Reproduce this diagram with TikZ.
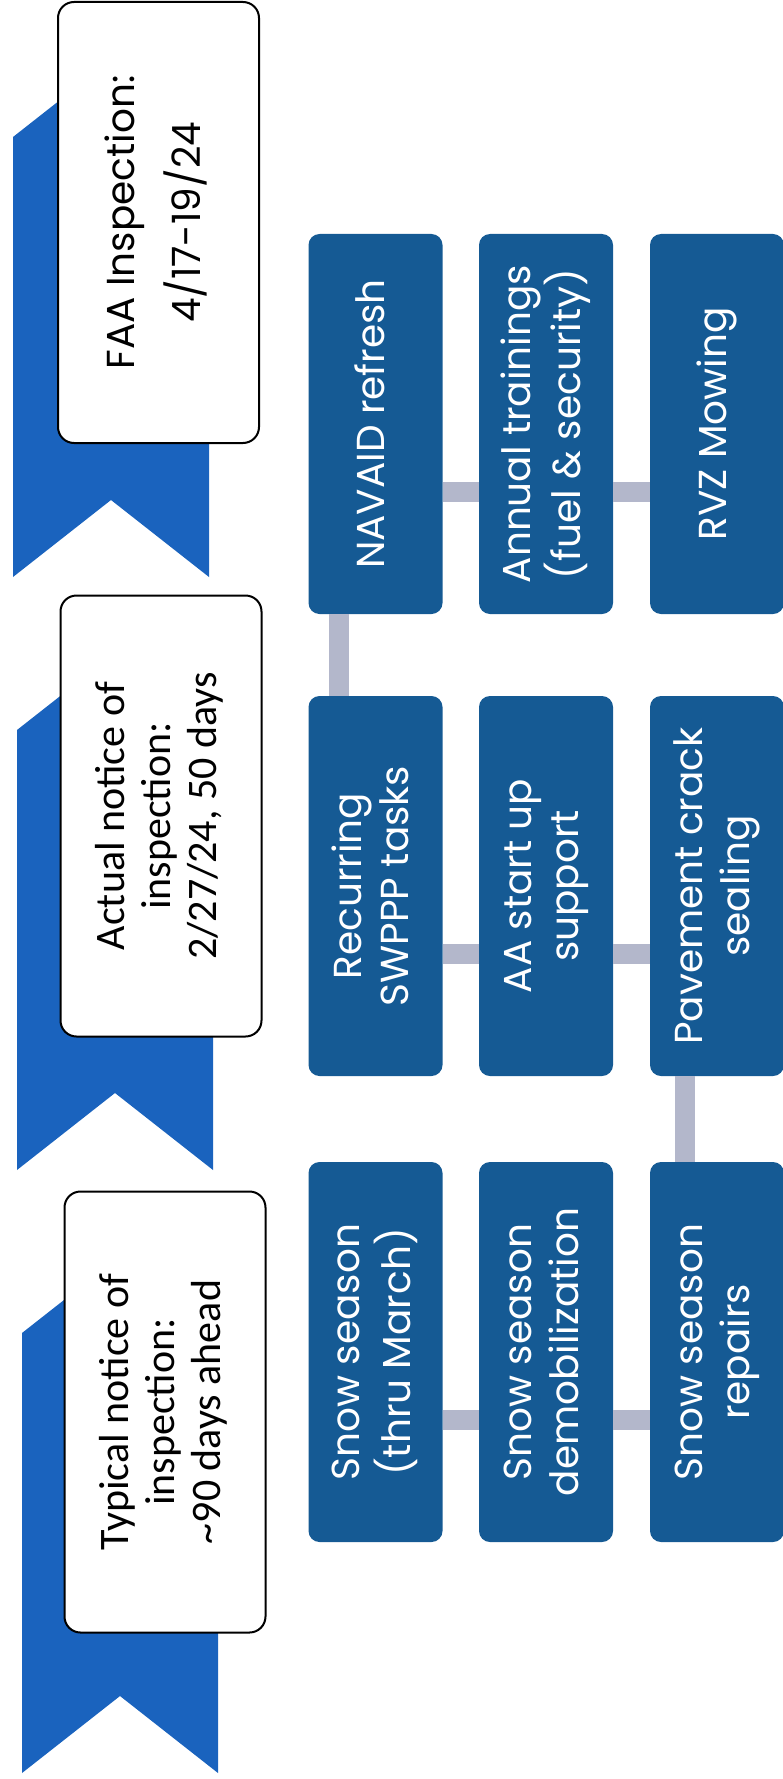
\documentclass[tikz,border=0pt]{standalone}
\usepackage{fontspec}
\setmainfont{Poppins}
\newfontfamily\notefont{Carlito}
\usepackage{graphicx}
\usepackage{tikz}
\definecolor{taskblue}{HTML}{155A94}
\definecolor{ribbonblue}{HTML}{1A63BE}
\definecolor{linkgrey}{HTML}{B3B7CB}
\newcommand{\uptext}[1]{\rotatebox{90}{\begin{tabular}{@{}c@{}}#1\end{tabular}}}
\newcommand{\ribbon}[2]{\fill[ribbonblue] (#1,#2) -- ++(98,-77) -- ++(98,77) -- ++(0,440) -- ++(-98,-77) -- ++(-98,77) -- cycle;}
\tikzstyle{task}=[fill=taskblue, text=white, rounded corners=11pt, inner sep=0,
                  minimum width=134pt, minimum height=380pt, font=\fontsize{39}{47}\selectfont]
\tikzstyle{note}=[draw=black, line width=2pt, fill=white, rounded corners=16pt, inner sep=0,
                  minimum width=201pt, minimum height=441pt, font=\notefont\fontsize{42}{46}\selectfont]
\tikzstyle{link}=[draw=linkgrey, line width=20pt]
\tikzstyle{timeline}=[x=1pt, y=-1pt]

\begin{document}
\begin{tikzpicture}[timeline]
    \useasboundingbox (0,0) rectangle (782,1779);
    % chevrons behind the notices
    \ribbon{13}{137}
    \ribbon{17}{730}
    \ribbon{22}{1333}
    \node[note, font=\fontsize{39}{44}\selectfont] (faa) at (158.5,222.5) {\uptext{FAA Inspection:\\[16pt]4/17-19/24}};
    \node[note] (actual) at (161,816) {\uptext{Actual notice of\\inspection:\\2/27/24, 50 days}};
    \node[note] (typical) at (165,1412) {\uptext{Typical notice of\\inspection:\\\textasciitilde90 days ahead}};
    % tasks
    \node[task] (navaid) at (375.5,424) {\uptext{NAVAID refresh}};
    \node[task] (annual) at (546,424) {\uptext{Annual trainings\\(fuel \& security)}};
    \node[task] (rvz) at (717,424) {\uptext{RVZ Mowing}};
    \node[task] (swppp) at (375.5,886) {\uptext{Recurring\\SWPPP tasks}};
    \node[task] (startup) at (546,886) {\uptext{AA start up\\support}};
    \node[task] (crack) at (717,886) {\uptext{Pavement crack\\sealing}};
    \node[task] (snow) at (375.5,1352) {\uptext{Snow season\\(thru March)}};
    \node[task] (demob) at (546,1352) {\uptext{Snow season\\demobilization}};
    \node[task] (repairs) at (717,1352) {\uptext{Snow season\\repairs}};
    % links
    \draw[link] ([yshift=-68pt]navaid.east) -- ([yshift=-68pt]annual.west);
    \draw[link] ([yshift=-68pt]annual.east) -- ([yshift=-68pt]rvz.west);
    \draw[link] ([xshift=-37pt]navaid.south) -- ([xshift=-37pt]swppp.north);
    \draw[link] ([yshift=-68pt]swppp.east) -- ([yshift=-68pt]startup.west);
    \draw[link] ([yshift=-68pt]startup.east) -- ([yshift=-68pt]crack.west);
    \draw[link] ([xshift=-32pt]crack.south) -- ([xshift=-32pt]repairs.north);
    \draw[link] ([yshift=-68pt]snow.east) -- ([yshift=-68pt]demob.west);
    \draw[link] ([yshift=-68pt]demob.east) -- ([yshift=-68pt]repairs.west);
\end{tikzpicture}
\end{document}
